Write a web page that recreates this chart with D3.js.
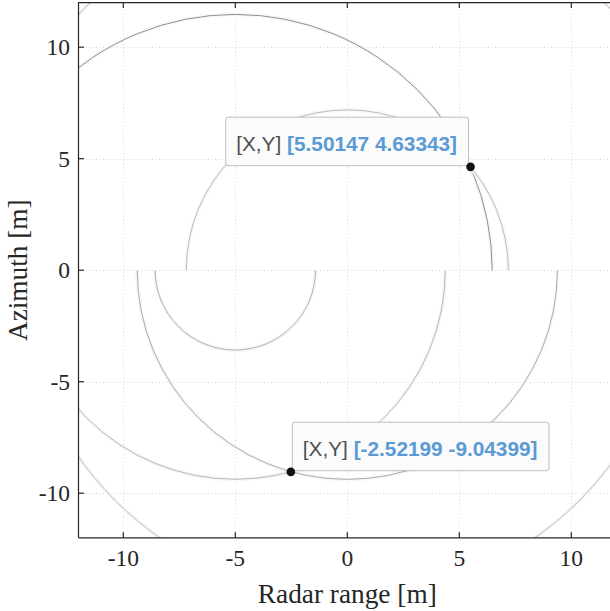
<!DOCTYPE html>
<html>
<head>
<meta charset="utf-8">
<script src="https://cdn.jsdelivr.net/npm/d3@7"></script>
<style>
  html, body { margin: 0; padding: 0; background: #fff; }
  svg { display: block; }
</style>
</head>
<body>
<svg id="chart" width="610" height="611"></svg>
<script>
// ---- data ----
const xTicks = [-10, -5, 0, 5, 10];
const yTicks = [-10, -5, 0, 5, 10];
const xDomain = [-12, 12];
const yDomain = [-12, 12];
// reflections: arc centre (x on y=0), radius, half-plane shown
const arcCenters = [-5, 0, 0, -5, -5, 0, 0];
const arcRadii   = [11.47, 7.19, 16.6, 3.58, 9.375, 9.38, 14.63];
const arcHalves  = ["upper", "upper", "upper", "lower", "lower", "lower", "lower"];
const arcShades  = ["#858585", "#b4b4b4", "#b0b0b0", "#a8a8a8", "#b0b0b0", "#a0a0a0", "#b4b4b4"];
// data tips
const tipX = [5.50147, -2.52199];
const tipY = [4.63343, -9.04399];
const tipLabels = ["[5.50147 4.63343]", "[-2.52199 -9.04399]"];
const tipSide = ["left", "right"];

const svg = d3.select("#chart");
const x = d3.scaleLinear().domain(xDomain).range([78.5, 616.1]);
const y = d3.scaleLinear().domain(yDomain).range([537.8, 2.6]);

const defs = svg.append("defs");
defs.append("clipPath").attr("id", "plot")
  .append("rect").attr("x", x(-12)).attr("y", y(12))
  .attr("width", x(12) - x(-12)).attr("height", y(-12) - y(12));
defs.append("clipPath").attr("id", "upper")
  .append("rect").attr("x", x(-12)).attr("y", y(12))
  .attr("width", x(12) - x(-12)).attr("height", y(0) - y(12));
defs.append("clipPath").attr("id", "lower")
  .append("rect").attr("x", x(-12)).attr("y", y(0))
  .attr("width", x(12) - x(-12)).attr("height", y(-12) - y(0));

// background
svg.append("rect").attr("x", x(-12)).attr("y", y(12))
  .attr("width", x(12) - x(-12)).attr("height", y(-12) - y(12))
  .attr("fill", "#ffffff");

// grid
const grid = svg.append("g").attr("clip-path", "url(#plot)")
  .attr("stroke", "#d6d6d6").attr("stroke-width", 1)
  .attr("stroke-dasharray", "1,2.5");
grid.selectAll(".gx").data(xTicks).join("line")
  .attr("x1", d => Math.round(x(d)) + 0.5).attr("x2", d => Math.round(x(d)) + 0.5)
  .attr("y1", y(12)).attr("y2", y(-12));
grid.selectAll(".gy").data(yTicks).join("line")
  .attr("y1", d => Math.round(y(d)) + 0.5).attr("y2", d => Math.round(y(d)) + 0.5)
  .attr("x1", x(-12)).attr("x2", x(12));

// arcs
const arcs = arcCenters.map((c, i) => ({c, r: arcRadii[i], half: arcHalves[i], shade: arcShades[i]}));
const arcG = svg.append("g").attr("clip-path", "url(#plot)");
arcs.forEach(a => {
  const g = arcG.append("g").attr("clip-path", `url(#${a.half})`);
  const rx = x(a.r) - x(0), ry = y(0) - y(a.r);
  g.append("ellipse").attr("cx", x(a.c)).attr("cy", y(0))
    .attr("rx", rx).attr("ry", ry)
    .attr("fill", "none").attr("stroke", "#f8f8f8").attr("stroke-width", 4);
  g.append("ellipse").attr("cx", x(a.c)).attr("cy", y(0))
    .attr("rx", rx).attr("ry", ry)
    .attr("fill", "none").attr("stroke", a.shade).attr("stroke-width", 0.9);
});

// axes box
const axisColor = "#262626";
const tickLen = 5.5;
const box = svg.append("g").attr("stroke", axisColor).attr("stroke-width", 1.2).attr("fill", "none");
box.append("line").attr("x1", x(-12)).attr("x2", x(12)).attr("y1", y(-12)).attr("y2", y(-12));
box.append("line").attr("x1", x(-12)).attr("x2", x(12)).attr("y1", y(12)).attr("y2", y(12));
box.append("line").attr("x1", x(-12)).attr("x2", x(-12)).attr("y1", y(12)).attr("y2", y(-12));
box.append("line").attr("x1", x(12)).attr("x2", x(12)).attr("y1", y(12)).attr("y2", y(-12));
xTicks.forEach(t => {
  box.append("line").attr("x1", x(t)).attr("x2", x(t)).attr("y1", y(-12)).attr("y2", y(-12) - tickLen);
  box.append("line").attr("x1", x(t)).attr("x2", x(t)).attr("y1", y(12)).attr("y2", y(12) + tickLen);
});
yTicks.forEach(t => {
  box.append("line").attr("y1", y(t)).attr("y2", y(t)).attr("x1", x(-12)).attr("x2", x(-12) + tickLen);
  box.append("line").attr("y1", y(t)).attr("y2", y(t)).attr("x1", x(12)).attr("x2", x(12) - tickLen);
});

// tick labels
const serif = "'Liberation Serif', 'Times New Roman', serif";
svg.append("g").selectAll("text").data(xTicks).join("text")
  .attr("x", d => x(d)).attr("y", 566)
  .attr("text-anchor", "middle")
  .attr("font-family", serif).attr("font-size", 23.5).attr("fill", axisColor)
  .text(d => String(d));
svg.append("g").selectAll("text").data(yTicks).join("text")
  .attr("x", 70).attr("y", d => y(d) + 8)
  .attr("text-anchor", "end")
  .attr("font-family", serif).attr("font-size", 23.5).attr("fill", axisColor)
  .text(d => String(d));

// axis labels
svg.append("text").attr("x", x(0)).attr("y", 603)
  .attr("text-anchor", "middle")
  .attr("font-family", serif).attr("font-size", 27.3).attr("fill", axisColor)
  .text("Radar range [m]");
svg.append("text")
  .attr("transform", `translate(27,${y(0)}) rotate(-90)`)
  .attr("text-anchor", "middle")
  .attr("font-family", serif).attr("font-size", 27.3).attr("fill", axisColor)
  .text("Azimuth [m]");

// data tips
const sans = "'Liberation Sans', Arial, Helvetica, sans-serif";
tipX.forEach((tx, i) => {
  const px = x(tx), py = y(tipY[i]);
  const g = svg.append("g");
  const rect = g.append("rect");
  const t = g.append("text").attr("font-family", sans).attr("font-size", 20.8);
  t.append("tspan").attr("fill", "#505050").text("[X,Y] ");
  t.append("tspan").attr("fill", "#5a9ad5").attr("font-weight", "bold").text(tipLabels[i]);
  const tw = t.node().getComputedTextLength();
  const padL = 10.5, padR = 11.5, h = 48.5;
  const w = tw + padL + padR;
  const bx = tipSide[i] === "left" ? px - 2 - w : px + 1.5;
  const by = py - 1.2 - h;
  rect.attr("x", bx).attr("y", by).attr("width", w).attr("height", h)
    .attr("rx", 2.5).attr("fill", "#fbfbfb").attr("stroke", "#bdbdbd").attr("stroke-width", 1);
  t.attr("x", bx + padL).attr("y", by + 33.5);
  svg.append("circle").attr("cx", px).attr("cy", py).attr("r", 4.3).attr("fill", "#111");
});
</script>
</body>
</html>
